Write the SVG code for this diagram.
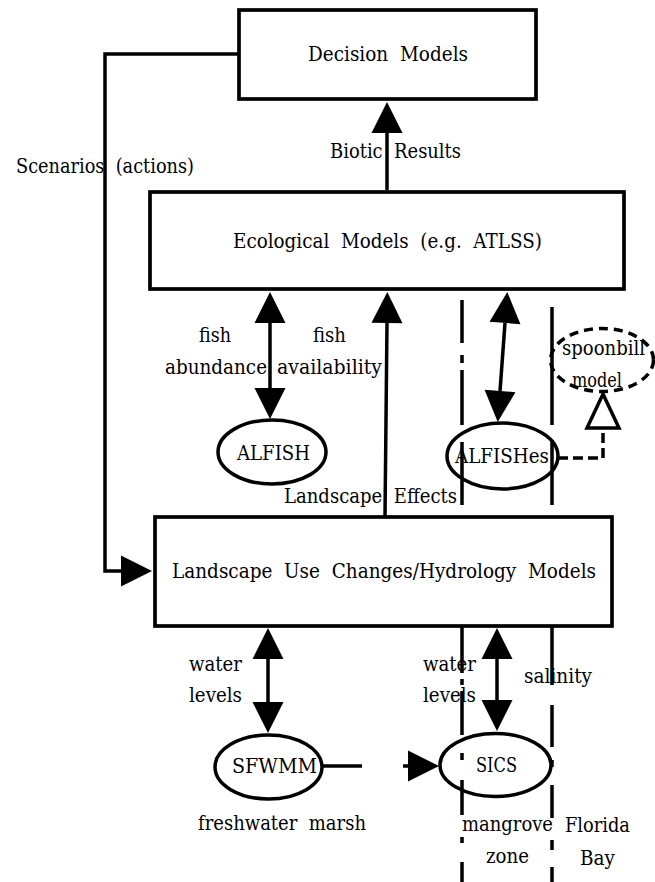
<svg xmlns="http://www.w3.org/2000/svg" width="655" height="882" viewBox="0 0 655 882">
<style>
  .box { fill: #fff; stroke: #000; stroke-width: 3.7; }
  .ell { fill: none; stroke: #000; stroke-width: 3.5; }
  .ln { fill: none; stroke: #000; stroke-width: 3.5; }
  .zone { fill: none; stroke: #000; stroke-width: 3.5; }
  .dash { fill: none; stroke: #000; stroke-width: 3.5; stroke-dasharray: 10 5; }
  text { font-family: 'DejaVu Serif', 'Liberation Serif', serif; font-size: 19.5px; fill: #000; white-space: pre; }
</style>
<defs>
  <marker id="arr" markerUnits="userSpaceOnUse" markerWidth="31" markerHeight="31" viewBox="0 0 31 31" refX="0" refY="15.5" orient="auto-start-reverse" overflow="visible">
    <path d="M0,0 L31,15.5 L0,31 Z" fill="#000"/>
  </marker>
</defs>
<rect width="655" height="882" fill="#fff"/>
<g id="zones">
  <path class="zone" d="M462,300 V343 M462,355 V363 M462,370 V425 M462,442 V505 M462,517 V523 M462,540 V588 M462,597 V603 M462,620 V673 M462,679 V685 M462,691 V735 M462,753 V760 M462,780 V815 M462,837 V843 M462,862 V882"/>
  <path class="zone" d="M552,307 V425 M552,440 V505 M552,522 V530 M552,546 V586 M552,602 V609 M552,627 V685 M552,705 V747 M552,760 V767 M552,785 V818 M552,840 V850 M552,867 V882"/>
</g>
<g id="connectors">
  <line class="ln" x1="387" y1="190" x2="387" y2="133" marker-end="url(#arr)"/>
  <polyline class="ln" points="239,54 105,54 105,571 121,571" marker-end="url(#arr)"/>
  <line class="ln" x1="270" y1="323" x2="270" y2="388" marker-start="url(#arr)" marker-end="url(#arr)"/>
  <line class="ln" x1="385" y1="517" x2="387" y2="323" marker-end="url(#arr)"/>
  <line class="ln" x1="505" y1="323" x2="500" y2="391" marker-start="url(#arr)" marker-end="url(#arr)"/>
  <line class="ln" x1="268" y1="659" x2="268" y2="702" marker-start="url(#arr)" marker-end="url(#arr)"/>
  <line class="ln" x1="497" y1="659" x2="497" y2="700" marker-start="url(#arr)" marker-end="url(#arr)"/>
  <path class="ln" d="M322,766 H362 M403,766 H408" marker-end="url(#arr)"/>
  <path class="dash" d="M558,458 H603 V430"/>
  <polygon points="603,394 619,428 587,428" fill="#fff" stroke="#000" stroke-width="3.5"/>
</g>
<g id="decision">
  <rect class="box" x="239" y="10" width="297" height="89"/>
  <text x="308" y="61" textLength="160" lengthAdjust="spacingAndGlyphs">Decision  Models</text>
</g>
<g id="ecological">
  <rect class="box" x="150" y="192" width="474" height="97"/>
  <text x="233" y="248" textLength="309" lengthAdjust="spacingAndGlyphs">Ecological  Models  (e.g.  ATLSS)</text>
</g>
<g id="landscape">
  <rect class="box" x="155" y="517" width="457" height="109"/>
  <text x="172" y="578" textLength="424" lengthAdjust="spacingAndGlyphs">Landscape  Use  Changes/Hydrology  Models</text>
</g>
<g id="alfish">
  <ellipse class="ell" cx="272" cy="452" rx="54" ry="32"/>
  <text x="237" y="460" textLength="73" lengthAdjust="spacingAndGlyphs">ALFISH</text>
</g>
<g id="alfishes">
  <ellipse class="ell" cx="502.5" cy="456" rx="55.5" ry="33"/>
  <text x="455" y="463" textLength="94" lengthAdjust="spacingAndGlyphs">ALFISHes</text>
</g>
<g id="spoonbill">
  <ellipse cx="602" cy="360" rx="51.5" ry="31.5" fill="none" stroke="#000" stroke-width="3.5" stroke-dasharray="9 6"/>
  <text x="562" y="355" textLength="83" lengthAdjust="spacingAndGlyphs">spoonbill</text>
  <text x="572" y="387" textLength="50" lengthAdjust="spacingAndGlyphs">model</text>
</g>
<g id="sfwmm">
  <ellipse class="ell" cx="268.5" cy="767" rx="53.5" ry="32"/>
  <text x="232" y="773" textLength="85" lengthAdjust="spacingAndGlyphs">SFWMM</text>
</g>
<g id="sics">
  <ellipse class="ell" cx="495.5" cy="765" rx="55.5" ry="31.5"/>
  <text x="476" y="772" textLength="41" lengthAdjust="spacingAndGlyphs">SICS</text>
</g>
<g id="labels">
  <text x="330" y="158" textLength="131" lengthAdjust="spacingAndGlyphs">Biotic  Results</text>
  <text x="16" y="173" textLength="178" lengthAdjust="spacingAndGlyphs">Scenarios  (actions)</text>
  <text x="199" y="342" textLength="32" lengthAdjust="spacingAndGlyphs">fish</text>
  <text x="165" y="374" textLength="102" lengthAdjust="spacingAndGlyphs">abundance</text>
  <text x="313" y="342" textLength="33" lengthAdjust="spacingAndGlyphs">fish</text>
  <text x="277" y="374" textLength="105" lengthAdjust="spacingAndGlyphs">availability</text>
  <text x="284" y="503" textLength="173" lengthAdjust="spacingAndGlyphs">Landscape  Effects</text>
  <text x="189" y="671" textLength="53" lengthAdjust="spacingAndGlyphs">water</text>
  <text x="189" y="702" textLength="53" lengthAdjust="spacingAndGlyphs">levels</text>
  <text x="423" y="671" textLength="53" lengthAdjust="spacingAndGlyphs">water</text>
  <text x="423" y="702" textLength="53" lengthAdjust="spacingAndGlyphs">levels</text>
  <text x="524" y="683" textLength="68" lengthAdjust="spacingAndGlyphs">salinity</text>
  <text x="198" y="830" textLength="168" lengthAdjust="spacingAndGlyphs">freshwater  marsh</text>
  <text x="462" y="831" textLength="91" lengthAdjust="spacingAndGlyphs">mangrove</text>
  <text x="486" y="863" textLength="43" lengthAdjust="spacingAndGlyphs">zone</text>
  <text x="565" y="832" textLength="65" lengthAdjust="spacingAndGlyphs">Florida</text>
  <text x="580" y="865" textLength="35" lengthAdjust="spacingAndGlyphs">Bay</text>
</g>
</svg>
